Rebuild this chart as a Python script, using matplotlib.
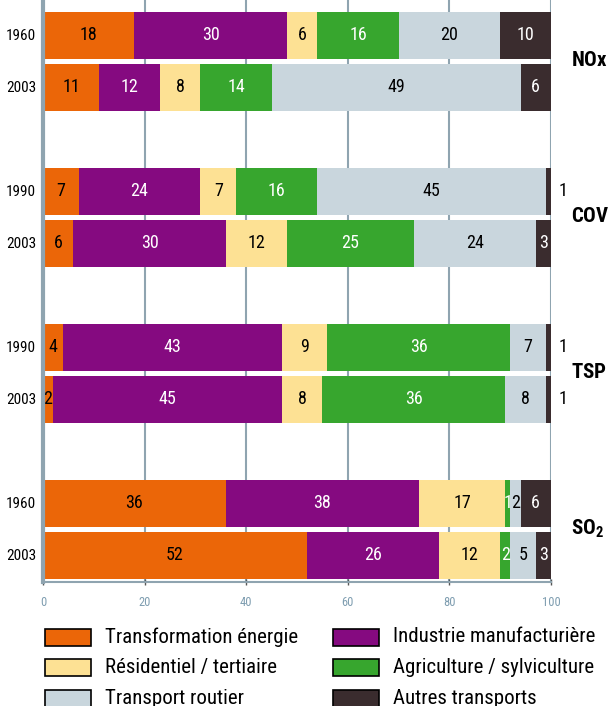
import numpy as np
import matplotlib
matplotlib.use('Agg')
import matplotlib.pyplot as plt
from matplotlib.patches import Rectangle
from matplotlib import font_manager


# data (percent shares per source)
pollutants = ['NOx', 'COV', 'TSP', 'SO_2']
years = [['1960', '2003'], ['1990', '2003'], ['1990', '2003'], ['1960', '2003']]

sources = ['Transformation énergie', 'Industrie manufacturière', 'Résidentiel / tertiaire',
           'Agriculture / sylviculture', 'Transport routier', 'Autres transports']

transformation = [18, 11, 7, 6, 4, 2, 36, 52]
industrie = [30, 12, 24, 30, 43, 45, 38, 26]
residentiel = [6, 8, 7, 12, 9, 8, 17, 12]
agriculture = [16, 14, 16, 25, 36, 36, 1, 2]
routier = [20, 49, 45, 24, 7, 8, 2, 5]
autres = [10, 6, 1, 3, 1, 1, 6, 3]

colors = ['#EB6608', '#850A80', '#FDE194', '#37A62E', '#C9D6DD', '#3A2C2E']
text_colors = ['black', 'white', 'black', 'white', 'black', 'white']
legend_order = [0, 2, 4, 1, 3, 5]


def pick_font(names):
    available = set(f.name for f in font_manager.fontManager.ttflist)
    for name in names:
        if name in available:
            return name
    return 'DejaVu Sans'


font = pick_font(['Liberation Sans Narrow', 'Roboto Condensed', 'DejaVu Sans'])
plt.rcParams['font.family'] = [font, 'DejaVu Sans']
plt.rcParams['mathtext.fontset'] = 'custom'
plt.rcParams['mathtext.rm'] = font
plt.rcParams['mathtext.bf'] = font + ':bold'

grid_color = '#8FA4B0'
series = [transformation, industrie, residentiel, agriculture, routier, autres]

fig = plt.figure(figsize=(6.12, 7.06), dpi=100)
ax = fig.add_axes([43 / 612, 1 - 582 / 706, 508 / 612, 582 / 706])

# row positions in pixel-like units (inverted axis)
group_step = 156
pair_offset = 26
bar_h = 47
centers = 61 + group_step * np.arange(len(pollutants))
ypos = np.ravel([[c - pair_offset, c + pair_offset] for c in centers])

left = np.zeros(len(ypos))
for k, vals in enumerate(series):
    vals = np.array(vals, dtype=float)
    ax.barh(ypos, vals, left=left, height=bar_h, color=colors[k], edgecolor='none', zorder=3)
    for y, l, v in zip(ypos, left, vals):
        if k == len(series) - 1 and v <= 1:
            ax.text(101.5, y, f'{int(v)}', ha='left', va='center', fontsize=13,
                    color='black', clip_on=False, zorder=4)
        else:
            ax.text(l + v / 2, y, f'{int(v)}', ha='center', va='center', fontsize=13,
                    color=text_colors[k], zorder=4)
    left += vals

ax.set_xlim(0, 100)
ax.set_ylim(582, 0)

ax.set_xticks([0, 20, 40, 60, 80, 100])
ax.set_yticks(ypos)
ax.set_yticklabels([y for pair in years for y in pair], fontsize=11)
ax.tick_params(axis='y', length=0, pad=5)
ax.tick_params(axis='x', direction='inout', length=4, width=1, color='#555555',
               labelsize=9, labelcolor='#7E9DB0', pad=8)

ax.grid(axis='x', color=grid_color, linewidth=1.5, zorder=1)
for s in ['top', 'right']:
    ax.spines[s].set_visible(False)
ax.spines['left'].set_color(grid_color)
ax.spines['left'].set_linewidth(3)
ax.spines['left'].set_zorder(5)
ax.spines['bottom'].set_color(grid_color)
ax.spines['bottom'].set_linewidth(1.5)

for c, name in zip(centers, pollutants):
    ax.text(104, c, r'$\mathbf{' + name + '}$', ha='left', va='center', fontsize=15,
            clip_on=False)

# legend drawn by hand
for i, k in enumerate(legend_order):
    col, row = divmod(i, 3)
    x0 = (45 + col * 288) / 612
    yc = 1 - (637 + row * 30.5) / 706
    fig.add_artist(Rectangle((x0, yc - 8.5 / 706), 46 / 612, 17 / 706,
                             facecolor=colors[k], edgecolor='black', linewidth=1.2,
                             transform=fig.transFigure))
    fig.text(x0 + 60 / 612, yc, sources[k], ha='left', va='center', fontsize=15)

fig.savefig('out.png', dpi=100)
